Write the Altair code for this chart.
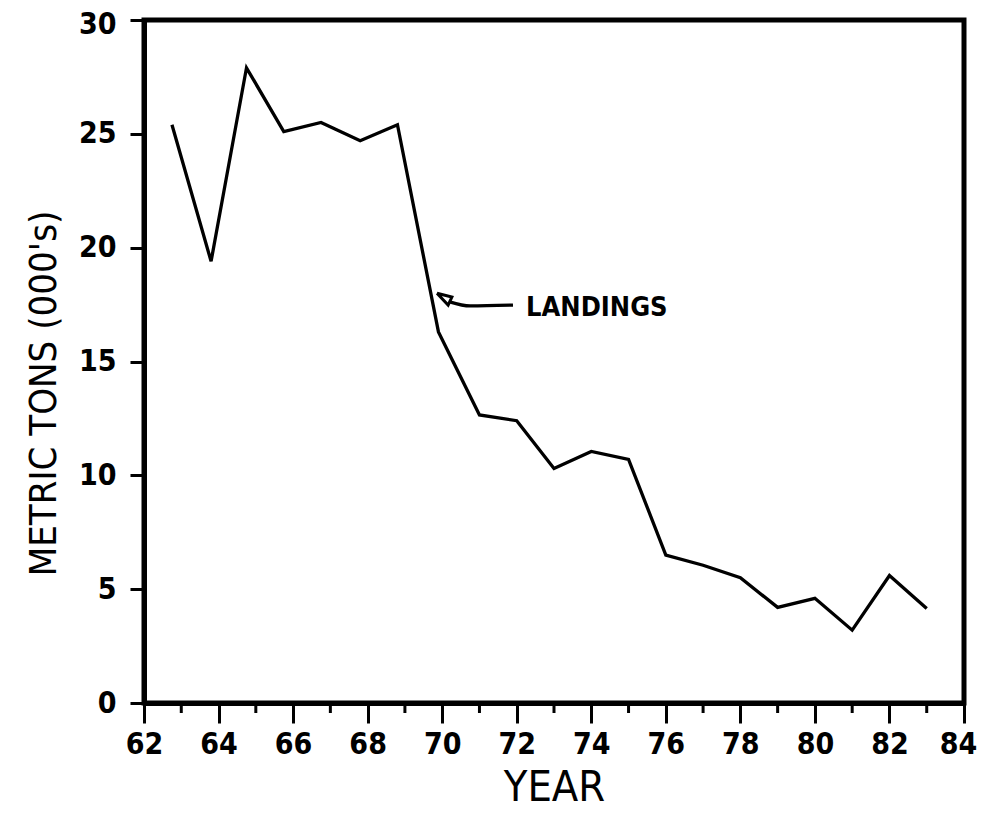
import altair as alt
import pandas as pd

# ---- data ----
years = [62.75, 63.8, 64.75, 65.75, 66.75, 67.8, 68.8, 69.9, 71, 72, 73, 74,
         75, 76, 77, 78, 79, 80, 81, 82, 83]
landings = [25.4, 19.4, 27.9, 25.1, 25.5, 24.7, 25.4, 16.3, 12.65, 12.4, 10.3,
            11.05, 10.7, 6.5, 6.05, 5.5, 4.2, 4.6, 3.2, 5.6, 4.15]
x_ticks = list(range(62, 85, 2))
minor_ticks = list(range(63, 84, 2))
y_ticks = [0, 5, 10, 15, 20, 25, 30]
label_text = ["LANDINGS"]

# annotation geometry (data coordinates)
arrow_head_x = [69.86, 70.26, 70.16, 69.86]
arrow_head_y = [18.0, 17.83, 17.48, 18.0]
arrow_line_x = [70.2, 70.75, 71.9]
arrow_line_y = [17.62, 17.44, 17.48]
label_x = [72.25]
label_y = [16.98]

FONT = "DejaVu Sans Condensed, Liberation Sans Narrow, Liberation Sans, sans-serif"
W, H = 820, 683

df = pd.DataFrame({"year": years, "landings": landings})
minor_df = pd.DataFrame({"year": minor_ticks})
head_df = pd.DataFrame({"x": arrow_head_x, "y": arrow_head_y, "o": range(len(arrow_head_x))})
aline_df = pd.DataFrame({"x": arrow_line_x, "y": arrow_line_y, "o": range(len(arrow_line_x))})
lab_df = pd.DataFrame({"x": label_x, "y": label_y, "t": label_text})

xscale = alt.Scale(domain=[62, 84], nice=False, zero=False)
yscale = alt.Scale(domain=[0, 30], nice=False)

xaxis = alt.Axis(values=x_ticks, title="YEAR", grid=False, tickSize=20, tickWidth=3,
                 tickColor="black", labelPadding=6, labelFont=FONT, labelFontSize=30,
                 labelFontWeight="bold", labelColor="black", labelFlush=False,
                 labelOffset={"condition": {"test": "datum.value == 84", "value": -6}, "value": 0},
                 titleFont=FONT, titleFontSize=43, titleFontWeight="normal",
                 titleColor="black", titleX=W / 2, titleY=97, titleAlign="center",
                 titleBaseline="alphabetic", domainWidth=5, domainColor="black")
yaxis = alt.Axis(values=y_ticks, title="METRIC TONS (000's)", grid=False, tickSize=14,
                 tickWidth=3, tickColor="black", labelPadding=14, labelFont=FONT,
                 labelFontSize=30, labelFontWeight="bold", labelColor="black",
                 labelFlush=False,
                 labelOffset={"condition": {"test": "datum.value == 30", "value": 4}, "value": 0},
                 titleFont=FONT, titleFontSize=38,
                 titleFontWeight="normal", titleColor="black", titleAngle=270,
                 titleX=-89, titleY=373, titleAlign="center", titleBaseline="alphabetic",
                 domainWidth=5, domainColor="black")

line = alt.Chart(df).mark_line(color="black", strokeWidth=3.3).encode(
    x=alt.X("year:Q", scale=xscale, axis=xaxis),
    y=alt.Y("landings:Q", scale=yscale, axis=yaxis),
)

minor = alt.Chart(minor_df).mark_rule(color="black", strokeWidth=3).encode(
    x=alt.X("year:Q", scale=xscale),
    y=alt.value(H),
    y2=alt.value(H + 10),
)

head = alt.Chart(head_df).mark_line(color="black", strokeWidth=3).encode(
    x=alt.X("x:Q", scale=xscale), y=alt.Y("y:Q", scale=yscale), order="o:Q")
aline = alt.Chart(aline_df).mark_line(color="black", strokeWidth=3.3, interpolate="monotone").encode(
    x=alt.X("x:Q", scale=xscale), y=alt.Y("y:Q", scale=yscale), order="o:Q")
label = alt.Chart(lab_df).mark_text(align="left", baseline="alphabetic", font=FONT,
                                    fontSize=27, fontWeight="bold", color="black").encode(
    x=alt.X("x:Q", scale=xscale), y=alt.Y("y:Q", scale=yscale), text="t:N")

chart = alt.layer(line, minor, head, aline, label).properties(
    width=W, height=H,
    background="white",
    autosize=alt.AutoSizeParams(type="none"),
    padding={"left": 136, "top": 12, "right": 14, "bottom": 103},
).configure_view(stroke="black", strokeWidth=5)

chart.save("out.html", embed_options={"renderer": "svg", "actions": False})
